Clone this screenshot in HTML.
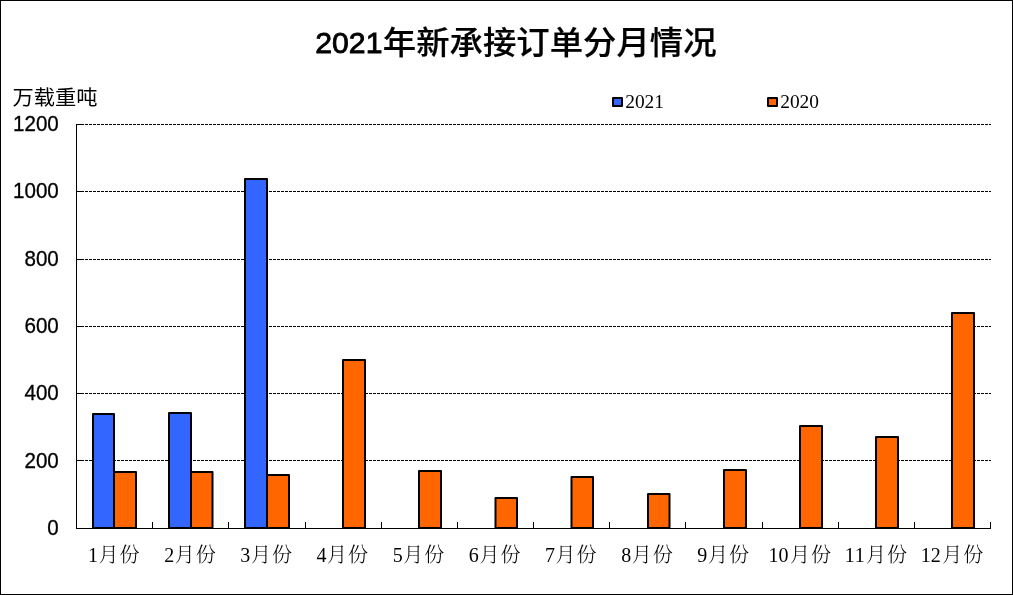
<!DOCTYPE html>
<html lang="zh-CN"><head><meta charset="utf-8"><title>2021年新承接订单分月情况</title>
<style>
html,body{margin:0;padding:0;background:#fff;}
body{width:1013px;height:595px;overflow:hidden;}
svg{display:block;}
.sans{font-family:"Liberation Sans","Noto Sans CJK SC",sans-serif;}
.hei{font-family:"Liberation Sans","Noto Sans CJK SC",sans-serif;}
.song{font-family:"Liberation Serif","Noto Serif CJK SC",serif;}
</style></head><body>
<svg width="1013" height="595" viewBox="0 0 1013 595">
<rect x="0" y="0" width="1013" height="595" fill="#fff"/>
<rect x="0.5" y="0.5" width="1012" height="594" fill="none" stroke="#000" stroke-width="1" shape-rendering="crispEdges"/>
<g stroke="#000" stroke-width="1" shape-rendering="crispEdges">
<line x1="77" y1="124.5" x2="991" y2="124.5" stroke-dasharray="3 1"/>
<line x1="77" y1="124.5" x2="83" y2="124.5"/>
<line x1="77" y1="191.5" x2="991" y2="191.5" stroke-dasharray="3 1"/>
<line x1="77" y1="191.5" x2="83" y2="191.5"/>
<line x1="77" y1="259.5" x2="991" y2="259.5" stroke-dasharray="3 1"/>
<line x1="77" y1="259.5" x2="83" y2="259.5"/>
<line x1="77" y1="326.5" x2="991" y2="326.5" stroke-dasharray="3 1"/>
<line x1="77" y1="326.5" x2="83" y2="326.5"/>
<line x1="77" y1="393.5" x2="991" y2="393.5" stroke-dasharray="3 1"/>
<line x1="77" y1="393.5" x2="83" y2="393.5"/>
<line x1="77" y1="460.5" x2="991" y2="460.5" stroke-dasharray="3 1"/>
<line x1="77" y1="460.5" x2="83" y2="460.5"/>
<line x1="76.5" y1="124" x2="76.5" y2="529"/>
<line x1="76" y1="528.5" x2="991" y2="528.5"/>
<line x1="76.5" y1="522" x2="76.5" y2="529"/>
<line x1="152.5" y1="522" x2="152.5" y2="529"/>
<line x1="228.5" y1="522" x2="228.5" y2="529"/>
<line x1="305.5" y1="522" x2="305.5" y2="529"/>
<line x1="381.5" y1="522" x2="381.5" y2="529"/>
<line x1="457.5" y1="522" x2="457.5" y2="529"/>
<line x1="533.5" y1="522" x2="533.5" y2="529"/>
<line x1="609.5" y1="522" x2="609.5" y2="529"/>
<line x1="685.5" y1="522" x2="685.5" y2="529"/>
<line x1="762.5" y1="522" x2="762.5" y2="529"/>
<line x1="838.5" y1="522" x2="838.5" y2="529"/>
<line x1="914.5" y1="522" x2="914.5" y2="529"/>
<line x1="990.5" y1="522" x2="990.5" y2="529"/>
</g>
<g stroke="#000" stroke-width="2" stroke-linejoin="round">
<rect x="93" y="414" width="21" height="114" fill="#3366FF"/>
<rect x="169" y="413" width="22" height="115" fill="#3366FF"/>
<rect x="245" y="179" width="22" height="349" fill="#3366FF"/>
<rect x="114" y="472" width="22" height="56" fill="#FF6600"/>
<rect x="191" y="472" width="21.5" height="56" fill="#FF6600"/>
<rect x="267" y="475" width="22" height="53" fill="#FF6600"/>
<rect x="343" y="360" width="22" height="168" fill="#FF6600"/>
<rect x="419" y="471" width="22" height="57" fill="#FF6600"/>
<rect x="495.5" y="498" width="21.5" height="30" fill="#FF6600"/>
<rect x="571.5" y="477" width="21.5" height="51" fill="#FF6600"/>
<rect x="648" y="494" width="21.5" height="34" fill="#FF6600"/>
<rect x="724" y="470" width="22" height="58" fill="#FF6600"/>
<rect x="800" y="426" width="22" height="102" fill="#FF6600"/>
<rect x="876" y="437" width="22" height="91" fill="#FF6600"/>
<rect x="952" y="313" width="22" height="215" fill="#FF6600"/>
</g>
<rect x="613" y="98" width="9" height="8" fill="#3366FF" stroke="#000" stroke-width="2" stroke-linejoin="round"/>
<rect x="768" y="98" width="9" height="8" fill="#FF6600" stroke="#000" stroke-width="2" stroke-linejoin="round"/>
<g class="song" font-size="19.4" fill="#000">
<text x="625.2" y="108">2021</text>
<text x="780.2" y="108">2020</text>
</g>
<g class="hei" fill="#000" font-weight="500">
<text x="315.3" y="53.2" font-size="30.2" font-weight="400" stroke="#000" stroke-width="0.85">2021</text>
<text transform="translate(382.8,54.35) scale(1,0.96)" font-size="33.4" stroke="#000" stroke-width="0.2">年新承接订单分月情况</text>
</g>
<text class="sans" transform="translate(12.6,104.5) scale(1,0.94)" font-size="21.25" fill="#000">万载重吨</text>
<g class="sans" font-size="20.6" fill="#000" text-anchor="end" stroke="#000" stroke-width="0.3">
<text transform="translate(58.8,131) scale(1,1.035)">1200</text>
<text transform="translate(58.8,198) scale(1,1.035)">1000</text>
<text transform="translate(58.8,266) scale(1,1.035)">800</text>
<text transform="translate(58.8,333) scale(1,1.035)">600</text>
<text transform="translate(58.8,400) scale(1,1.035)">400</text>
<text transform="translate(58.8,468) scale(1,1.035)">200</text>
<text transform="translate(58.8,535) scale(1,1.035)">0</text>
</g>
<g class="song" font-size="20" fill="#000" font-weight="300">
<text x="88.0 98.6 119.6" y="561.7">1月份</text>
<text x="164.2 174.8 195.8" y="561.7">2月份</text>
<text x="240.3 250.9 271.9" y="561.7">3月份</text>
<text x="316.5 327.1 348.1" y="561.7">4月份</text>
<text x="392.7 403.3 424.3" y="561.7">5月份</text>
<text x="468.8 479.4 500.4" y="561.7">6月份</text>
<text x="545.0 555.6 576.6" y="561.7">7月份</text>
<text x="621.2 631.8 652.8" y="561.7">8月份</text>
<text x="697.3 707.9 728.9" y="561.7">9月份</text>
<text x="768.5 778.5 789.9 810.9" y="561.7">10月份</text>
<text x="844.7 854.7 866.1 887.1" y="561.7">11月份</text>
<text x="920.8 930.8 942.2 963.2" y="561.7">12月份</text>
</g>
</svg></body></html>
